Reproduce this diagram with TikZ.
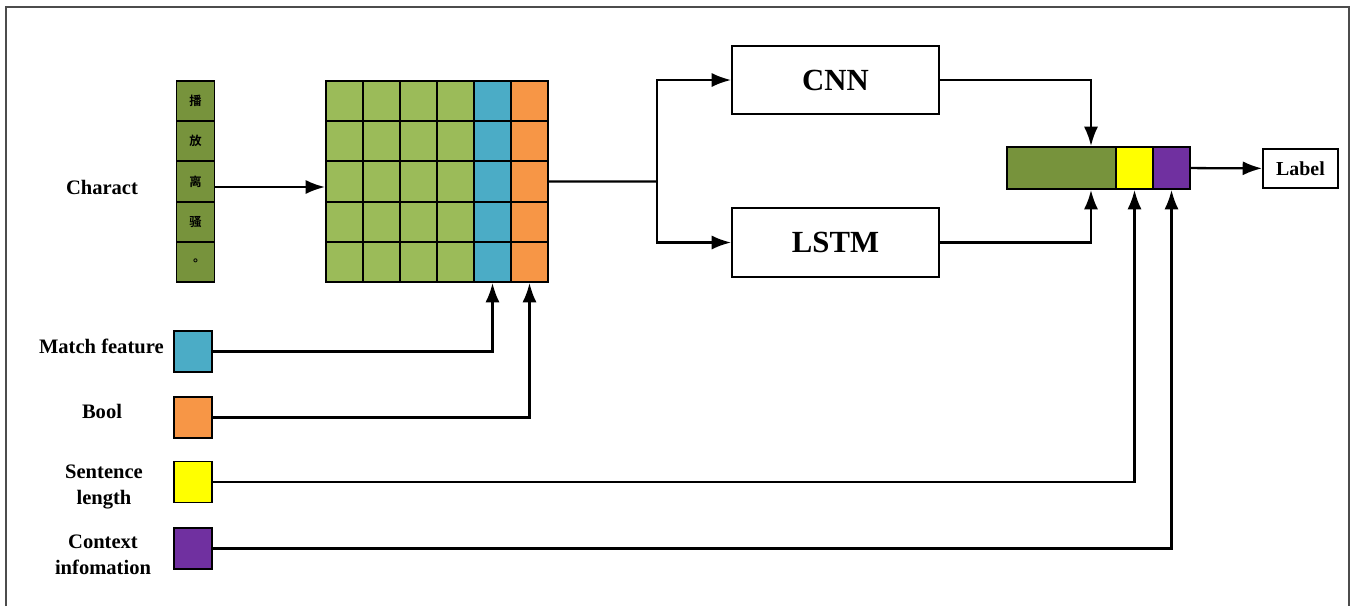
\documentclass[tikz,border=0pt]{standalone}
\usepackage{fontspec}
\setmainfont{Liberation Serif}
\newfontfamily\cjk{Noto Sans CJK SC Bold}
\newfontfamily\cjktc{Noto Sans CJK TC Bold}
\usepackage{tikz}
\usetikzlibrary{arrows.meta, calc, positioning}
\usepackage{xcolor}
\definecolor{olive}{HTML}{77933C}
\definecolor{leaf}{HTML}{9BBB59}
\definecolor{sky}{HTML}{4BACC6}
\definecolor{peach}{HTML}{F79646}
\definecolor{lemon}{HTML}{FFFF00}
\definecolor{grape}{HTML}{7030A0}

\begin{document}
\begin{tikzpicture}[x=0.02cm, y=-0.02cm,
    box/.style={draw, line width=1.1pt, inner sep=0pt},
    cell/.style={box, minimum width=0.74cm, minimum height=0.804cm},
    chcell/.style={box, fill=olive, minimum width=0.76cm, minimum height=0.804cm, font=\cjk\fontsize{7}{8}\selectfont},
    feat/.style={box, minimum width=0.76cm, minimum height=0.82cm},
    net/.style={box, minimum width=4.14cm, minimum height=1.37cm, font=\bfseries\fontsize{17.5}{19}\selectfont},
    seg/.style={box, minimum height=0.84cm},
    txt/.style={font=\bfseries\fontsize{11.7}{15}\selectfont, align=center},
    arr/.style={-{Latex[length=11pt, width=8pt]}, line width=1.3pt}]
    \useasboundingbox (0,0) rectangle (1352,606);

    % 边框
    \draw[gray!60!black, line width=1pt] (6,606) -- (6,7) -- (1349,7) -- (1349,606);

    % 字符列
    \foreach \r/\ch in {1/播, 2/放, 3/离, 4/骚} {
        \node[chcell] (ch-\r) at (195.5, 81+40.2*\r-20.1) {\ch};
    }
    \node[chcell, font=\cjktc\fontsize{7}{8}\selectfont] (ch-5) at (195.5, 81+40.2*5-20.1) {。};
    \node[txt] (charact) at (102, 187) {Charact};

    % 特征矩阵
    \foreach \r in {1,...,5} {
        \foreach \c/\col in {1/leaf, 2/leaf, 3/leaf, 4/leaf, 5/sky, 6/peach} {
            \node[cell, fill=\col] (cell-\r-\c) at (326+37*\c-18.5, 81+40.2*\r-20.1) {};
        }
    }
    \draw[arr] ([yshift=-0.11cm]ch-3.east) -- ([yshift=-0.11cm]cell-3-1.west);

    % 网络
    \node[net] (cnn) at (835.5, 80) {CNN};
    \node[net] (lstm) at (835.5, 242.5) {LSTM};
    \coordinate (split) at (657, 181.5);
    \draw[line width=1.3pt] (cell-3-6.east) -- (split);
    \draw[arr] (split) |- (cnn);
    \draw[arr] (split) |- (lstm);

    % 拼接向量
    \node[seg, fill=olive, minimum width=2.18cm] (vec-g) at (1061.5, 168) {};
    \node[seg, fill=lemon, minimum width=0.74cm] (vec-y) at (1134.5, 168) {};
    \node[seg, fill=grape, minimum width=0.74cm] (vec-p) at (1171.5, 168) {};
    \node[box, minimum width=1.5cm, minimum height=0.78cm, font=\bfseries\fontsize{11.3}{13}\selectfont] (label) at (1300.5, 168.5) {Label};
    \draw[arr] (cnn.east) -| ([xshift=0.59cm]vec-g.north);
    \draw[arr] (lstm.east) -| ([xshift=0.59cm]vec-g.south);
    \draw[arr] (vec-p) -- (label);

    % 附加特征
    \node[feat, fill=sky] (mf) at (193, 351.5) {};
    \node[feat, fill=peach] (bool) at (193, 417.5) {};
    \node[feat, fill=lemon] (sl) at (193, 482) {};
    \node[feat, fill=grape] (ci) at (193, 548.5) {};
    \node[txt, anchor=east, inner sep=0pt] at (164, 346) {Match feature};
    \node[txt] at (102, 411) {Bool};
    \node[txt] at (104, 487) {Sentence\\length};
    \node[txt] at (103, 555) {Context\\infomation};

    \draw[arr] (mf) -| (cell-5-5.south);
    \draw[arr] (bool) -| (cell-5-6.south);
    \draw[arr] (sl) -| (vec-y.south);
    \draw[arr] (ci) -| (vec-p.south);
\end{tikzpicture}
\end{document}
